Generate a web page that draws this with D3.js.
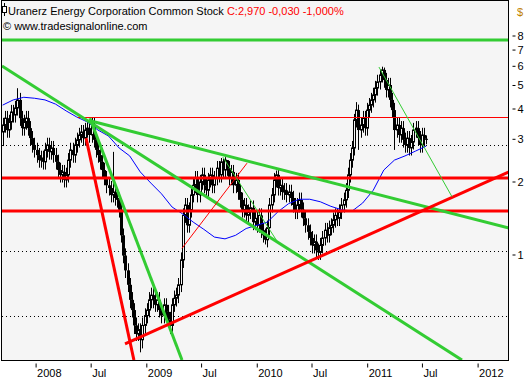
<!DOCTYPE html>
<html>
<head>
<meta charset="utf-8">
<script src="https://cdn.jsdelivr.net/npm/d3@7"></script>
<style>
  body { margin: 0; background: #fff; }
  svg { display: block; font-family: "Liberation Sans", Arial, sans-serif; }
</style>
</head>
<body>
<svg width="526" height="380"></svg>
<script>
// weekly candles, first week
const firstWeek = new Date(2007, 8, 14);

const opens = [
3.20,3.42,3.65,3.26,3.52,3.87,3.76,4.02,4.34,3.65, 3.32,3.52,3.65,3.32,3.02,2.83,2.70,2.57,2.45,2.50,
2.41,2.70,2.83,2.65,2.75,2.57,2.41,2.23,2.13,2.19, 2.03,2.13,2.45,2.70,2.57,2.83,2.97,3.11,3.20,3.02,
3.26,3.32,3.11,3.42,2.97,2.70,2.57,2.41,2.23,2.07, 1.93,1.88,1.76,1.81,1.71,1.68,1.53,1.20,0.99,0.86,
0.75,0.65,0.59,0.51,0.47,0.49,0.445,0.51,0.56,0.59, 0.65,0.68,0.65,0.62,0.65,0.59,0.56,0.62,0.58,0.54,
0.51,0.62,0.66,0.68,0.75,0.95,1.45,1.60,1.32,1.53, 1.76,1.93,2.07,1.76,1.99,2.13,1.93,1.84,2.03,2.13,
1.93,2.07,2.27,2.13,2.41,2.23,2.45,2.27,2.07,2.19, 1.93,2.03,1.81,1.68,1.53,1.60,1.45,1.50,1.56,1.36,
1.41,1.32,1.45,1.26,1.20,1.15,1.29,1.60,1.76,2.03, 2.13,1.88,1.93,1.81,1.84,1.76,1.81,1.71,1.60,1.50,
1.60,1.68,1.53,1.41,1.32,1.24,1.17,1.09,1.13,1.04, 1.02,1.09,1.17,1.26,1.20,1.29,1.32,1.39,1.45,1.41,
1.50,1.60,1.68,1.84,2.13,2.45,2.75,3.59,3.94,3.26, 3.42,3.65,3.32,3.94,4.13,4.34,4.55,4.86,5.15,5.50,
5.77,5.24,4.77,5.00,4.34,3.94,3.26,3.42,3.11,3.32, 2.97,2.83,3.02,2.75,2.91,3.26,3.32,3.02,2.83,3.11,
3.00];
const highs = [
3.66,3.91,3.91,3.77,4.14,4.14,4.30,4.85,4.64,3.91, 3.77,3.91,3.91,3.55,3.23,3.03,2.89,2.75,2.68,2.68,
2.89,3.03,3.03,2.94,2.94,2.75,2.58,2.39,2.34,2.34, 2.28,2.62,2.89,2.89,3.03,3.18,3.33,3.42,3.42,3.49,
3.55,3.55,3.66,3.66,3.18,2.89,2.75,2.58,2.39,2.21, 2.07,2.01,2.65,1.94,1.83,1.80,1.64,1.28,1.06,0.92,
0.80,0.70,0.63,0.55,0.52,0.52,0.55,0.60,0.63,0.70, 0.73,0.73,0.70,0.70,0.70,0.63,0.66,0.66,0.62,0.58,
0.66,0.71,0.73,0.80,1.02,1.55,1.71,1.71,1.64,1.88, 2.07,2.21,2.21,2.13,2.28,2.28,2.07,2.17,2.28,2.28,
2.21,2.43,2.43,2.50,2.48,2.52,2.45,2.43,2.34,2.34, 2.17,2.17,1.94,1.80,1.71,1.71,1.61,1.67,1.67,1.51,
1.51,1.55,1.55,1.35,1.28,1.38,1.71,1.88,2.17,2.22, 2.25,2.07,2.07,1.97,1.97,1.94,1.94,1.83,1.71,1.71,
1.80,1.80,1.64,1.51,1.41,1.33,1.25,1.21,1.21,1.11, 1.17,1.25,1.35,1.35,1.38,1.41,1.49,1.55,1.55,1.61,
1.71,1.80,1.97,2.28,2.62,2.94,3.80,4.25,4.15,3.66, 3.91,3.91,4.22,4.42,4.64,4.87,5.20,5.51,5.80,5.95,
5.90,5.61,5.35,5.35,4.64,4.22,3.66,3.66,3.55,3.55, 3.18,3.23,3.23,3.11,3.49,3.55,3.55,3.23,3.33,3.33,
3.10];
const lows = [
2.80,3.18,3.03,3.03,3.27,3.50,3.50,3.74,3.39,3.09, 3.09,3.27,3.09,2.81,2.63,2.51,2.39,2.28,2.28,2.24,
2.24,2.51,2.46,2.46,2.39,2.24,2.07,1.98,1.98,1.89, 1.89,1.98,2.28,2.39,2.39,2.63,2.76,2.89,2.81,2.81,
3.03,2.89,2.89,2.76,2.51,2.39,2.24,2.07,1.93,1.79, 1.75,1.64,1.64,1.59,1.56,1.42,1.12,0.92,0.80,0.70,
0.60,0.55,0.47,0.44,0.44,0.395,0.41,0.47,0.52,0.55, 0.60,0.60,0.58,0.58,0.55,0.52,0.52,0.54,0.50,0.47,
0.48,0.58,0.61,0.63,0.70,0.88,1.35,1.23,1.23,1.42, 1.64,1.79,1.64,1.64,1.85,1.79,1.71,1.71,1.89,1.79,
1.79,1.93,1.98,1.98,2.07,2.07,2.11,1.93,1.93,1.79, 1.79,1.68,1.56,1.42,1.42,1.35,1.35,1.40,1.26,1.26,
1.23,1.23,1.17,1.12,1.10,1.07,1.20,1.49,1.64,1.89, 1.75,1.75,1.68,1.68,1.64,1.64,1.59,1.49,1.40,1.40,
1.49,1.42,1.31,1.23,1.15,1.09,1.01,1.01,0.97,0.95, 0.95,1.01,1.09,1.12,1.12,1.20,1.23,1.29,1.31,1.31,
1.40,1.49,1.56,1.71,1.98,2.28,2.56,3.34,2.70,3.03, 3.18,3.09,3.09,3.66,3.84,4.04,4.23,4.52,4.79,5.12,
4.87,4.44,4.44,4.04,3.66,2.70,3.03,2.89,2.89,2.76, 2.63,2.63,2.56,2.56,2.71,3.03,2.81,2.63,2.63,2.79,
2.85];
const closes = [
3.42,3.65,3.26,3.52,3.87,3.76,4.02,4.34,3.65,3.32, 3.52,3.65,3.32,3.02,2.83,2.70,2.57,2.45,2.50,2.41,
2.70,2.83,2.65,2.75,2.57,2.41,2.23,2.13,2.19,2.03, 2.13,2.45,2.70,2.57,2.83,2.97,3.11,3.20,3.02,3.26,
3.32,3.11,3.42,2.97,2.70,2.57,2.41,2.23,2.07,1.93, 1.88,1.76,1.81,1.71,1.68,1.53,1.20,0.99,0.86,0.75,
0.65,0.59,0.51,0.47,0.49,0.445,0.51,0.56,0.59,0.65, 0.68,0.65,0.62,0.65,0.59,0.56,0.62,0.58,0.54,0.51,
0.62,0.66,0.68,0.75,0.95,1.45,1.60,1.32,1.53,1.76, 1.93,2.07,1.76,1.99,2.13,1.93,1.84,2.03,2.13,1.93,
2.07,2.27,2.13,2.41,2.23,2.45,2.27,2.07,2.19,1.93, 2.03,1.81,1.68,1.53,1.60,1.45,1.50,1.56,1.36,1.41,
1.32,1.45,1.26,1.20,1.15,1.29,1.60,1.76,2.03,2.13, 1.88,1.93,1.81,1.84,1.76,1.81,1.71,1.60,1.50,1.60,
1.68,1.53,1.41,1.32,1.24,1.17,1.09,1.13,1.04,1.02, 1.09,1.17,1.26,1.20,1.29,1.32,1.39,1.45,1.41,1.50,
1.60,1.68,1.84,2.13,2.45,2.75,3.59,3.94,3.26,3.42, 3.65,3.32,3.94,4.13,4.34,4.55,4.86,5.15,5.50,5.77,
5.24,4.77,5.00,4.34,3.94,3.26,3.42,3.11,3.32,2.97, 2.83,3.02,2.75,2.91,3.26,3.32,3.02,2.83,3.11,3.00,
2.97];

// moving average (blue), one value every 5 weeks
const maWeeks = [0,5,10,15,20,25,30,35,40,45,50,55,60,65,70,75,80,85,90,95,100,
                 105,110,115,120,125,130,135,140,145,150,155,160,165,170,175,180,185,190,195,200];
const maValues = [4.13,4.34,4.45,4.41,4.34,4.17,3.91,3.69,3.52,3.26,3.08,2.75,2.55,2.19,1.97,1.78,1.57,1.47,1.36,1.27,1.18,
                  1.16,1.20,1.28,1.32,1.36,1.50,1.62,1.69,1.69,1.65,1.58,1.53,1.51,1.63,1.84,2.23,2.45,2.55,2.67,2.80];

// drawn levels and trend lines: [week, price, week, price]
const greenLevels = [7.67];
const redLevels = [2.07, 1.51];
const thinRedLevel = [35.6, 3.68];
const dottedLevels = [2.83, 1.03, 0.557];
const thickGreenLines = [
  [-0.3, 5.99, 216.9, 0.367],
  [41.7, 3.55, 239.1, 1.286],
  [41.2, 3.65, 84.7, 0.367]
];
const thickRedLines = [
  [39.4, 3.02, 62.0, 0.367],
  [57.8, 0.428, 239.1, 2.19]
];
const thinGreenLines = [
  [177.7, 5.93, 212.2, 1.73],
  [104.0, 2.52, 130.0, 1.12]
];
const thinRedLines = [
  [84.7, 1.06, 115.4, 2.38]
];

const priceTicks = [1, 2, 3, 4, 5, 6, 7, 8];
const dateTicks = [new Date(2008,0,1), new Date(2008,6,1), new Date(2009,0,1), new Date(2009,6,1),
                   new Date(2010,0,1), new Date(2010,6,1), new Date(2011,0,1), new Date(2011,6,1), new Date(2012,0,1)];
const dateLabels = ["2008", "Jul", "2009", "Jul", "2010", "Jul", "2011", "Jul", "2012"];

const weekDate = w => new Date(firstWeek.getTime() + w * 7 * 86400000);

const plot = {left: 2, top: 0, right: 509, bottom: 360};

const x = d3.scaleTime()
  .domain([new Date(2008,0,1), new Date(2012,0,1)])
  .range([35.6, 477.6]);
const y = d3.scaleLog()
  .domain([1, 8])
  .range([254.5, 35.5]);

const svg = d3.select("svg");

svg.append("defs").append("clipPath").attr("id", "clip")
  .append("rect")
  .attr("x", plot.left).attr("y", plot.top + 1)
  .attr("width", plot.right - plot.left).attr("height", plot.bottom - plot.top - 1);

svg.append("rect")
  .attr("x", plot.left).attr("y", plot.top)
  .attr("width", plot.right - plot.left).attr("height", plot.bottom - plot.top)
  .attr("fill", "#f5f5f5");

const g = svg.append("g").attr("clip-path", "url(#clip)");

// dotted levels
g.selectAll(".dot-level").data(dottedLevels).enter().append("line")
  .attr("x1", plot.left).attr("x2", plot.right)
  .attr("y1", d => Math.round(y(d)) + 0.5).attr("y2", d => Math.round(y(d)) + 0.5)
  .attr("stroke", "#000").attr("stroke-width", 1).attr("stroke-dasharray", "1,3");

// candles
const candles = g.append("g");
closes.forEach((c, i) => {
  const o = opens[i];
  const cx = Math.round(x(weekDate(i))) + 0.5;
  candles.append("line")
    .attr("x1", cx).attr("x2", cx)
    .attr("y1", y(highs[i])).attr("y2", y(lows[i]))
    .attr("stroke", "#000").attr("stroke-width", 1);
  const top = y(Math.max(o, c)), bot = y(Math.min(o, c));
  if (c >= o) {
    candles.append("rect")
      .attr("x", cx - 1).attr("y", top)
      .attr("width", 2).attr("height", Math.max(1, bot - top))
      .attr("fill", "#f5f5f5").attr("stroke", "#000").attr("stroke-width", 1);
  } else {
    candles.append("rect")
      .attr("x", cx - 1.5).attr("y", top)
      .attr("width", 3).attr("height", Math.max(1, bot - top))
      .attr("fill", "#000");
  }
});

// moving average
g.append("path")
  .datum(maWeeks.map((w, i) => [w, maValues[i]]))
  .attr("fill", "none").attr("stroke", "#0000ff").attr("stroke-width", 1)
  .attr("d", d3.line().x(d => x(weekDate(d[0]))).y(d => y(d[1])));

// horizontal levels
g.selectAll(".green-level").data(greenLevels).enter().append("line")
  .attr("x1", plot.left).attr("x2", plot.right)
  .attr("y1", d => y(d)).attr("y2", d => y(d))
  .attr("stroke", "#33cc33").attr("stroke-width", 3);
g.selectAll(".red-level").data(redLevels).enter().append("line")
  .attr("x1", plot.left).attr("x2", plot.right)
  .attr("y1", d => y(d)).attr("y2", d => y(d))
  .attr("stroke", "#ff0000").attr("stroke-width", 3);
g.append("line")
  .attr("x1", x(weekDate(thinRedLevel[0]))).attr("x2", plot.right)
  .attr("y1", Math.round(y(thinRedLevel[1])) + 0.5).attr("y2", Math.round(y(thinRedLevel[1])) + 0.5)
  .attr("stroke", "#ff0000").attr("stroke-width", 1);

function trend(data, color, width) {
  g.append("g").selectAll("line").data(data).enter().append("line")
    .attr("x1", d => x(weekDate(d[0]))).attr("y1", d => y(d[1]))
    .attr("x2", d => x(weekDate(d[2]))).attr("y2", d => y(d[3]))
    .attr("stroke", color).attr("stroke-width", width);
}
trend(thickGreenLines, "#33cc33", 3);
trend(thickRedLines, "#ff0000", 3);
trend(thinGreenLines, "#33cc33", 1);
trend(thinRedLines, "#ff0000", 1);

// frame
svg.append("rect")
  .attr("x", plot.left - 0.5).attr("y", plot.top + 0.5)
  .attr("width", plot.right - plot.left).attr("height", plot.bottom - plot.top)
  .attr("fill", "none").attr("stroke", "#000").attr("stroke-width", 1);

// right axis
const yAxis = svg.append("g")
  .attr("transform", "translate(512.5,0)")
  .call(d3.axisRight(y).tickValues(priceTicks).tickFormat(d3.format("d")).tickSize(3).tickPadding(2));
yAxis.select(".domain").remove();
yAxis.selectAll("text").attr("font-size", 11).attr("font-family", "Liberation Sans, Arial, sans-serif").attr("fill", "#000");
yAxis.selectAll("line").attr("stroke", "#000");
svg.append("text").attr("x", 517).attr("y", 16).attr("font-size", 11).attr("fill", "#c08000").text("$");

// bottom axis
const xAxis = svg.append("g")
  .attr("transform", "translate(0,363.5)")
  .call(d3.axisBottom(x).tickValues(dateTicks).tickFormat((d, i) => dateLabels[i]).tickSize(4).tickPadding(2));
xAxis.select(".domain").remove();
xAxis.selectAll("text").attr("font-size", 11).attr("font-family", "Liberation Sans, Arial, sans-serif")
  .attr("text-anchor", "start").attr("x", 1).attr("fill", "#000");
xAxis.selectAll("line").attr("stroke", "#000");

// title
svg.append("line").attr("x1", 4.5).attr("x2", 4.5).attr("y1", 3).attr("y2", 16).attr("stroke", "#000");
svg.append("rect").attr("x", 2.5).attr("y", 6.5).attr("width", 4).attr("height", 6)
  .attr("fill", "#fff").attr("stroke", "#000");
const title = svg.append("text").attr("x", 8).attr("y", 15).attr("font-size", 11).attr("fill", "#000");
title.append("tspan").text("Uranerz Energy Corporation Common Stock ");
title.append("tspan").attr("fill", "#ff0000").text("C:2,970 -0,030 -1,000%");
svg.append("text").attr("x", 3).attr("y", 30).attr("font-size", 11).attr("fill", "#000")
  .text("\u00a9 www.tradesignalonline.com");
</script>
</body>
</html>
